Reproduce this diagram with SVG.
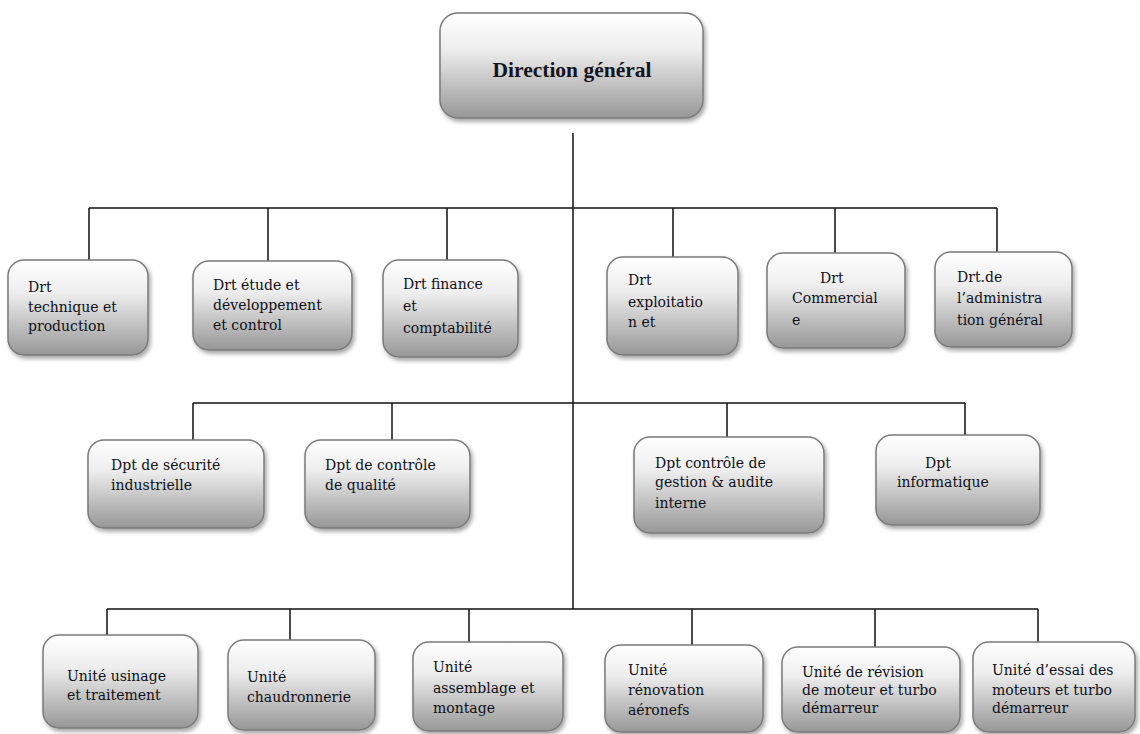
<svg xmlns="http://www.w3.org/2000/svg" width="1140" height="734" viewBox="0 0 1140 734">
<defs>
<linearGradient id="g" x1="0" y1="0" x2="0" y2="1">
<stop offset="0" stop-color="#ffffff"/>
<stop offset="0.35" stop-color="#ededed"/>
<stop offset="1" stop-color="#979797"/>
</linearGradient>
<filter id="sh" x="-10%" y="-10%" width="130%" height="130%">
<feDropShadow dx="2" dy="3" stdDeviation="2" flood-color="#000" flood-opacity="0.35"/>
</filter>
</defs>
<style>
.box{fill:url(#g);stroke:#7a7a7a;stroke-width:1.5;filter:url(#sh)}
.t{font-family:"DejaVu Serif","Liberation Serif",serif;font-size:14px;fill:#101018}
.title{font-family:"Liberation Serif","Times New Roman",serif;font-size:21.5px;font-weight:bold;fill:#151520}
.c{fill:none;stroke:#111;stroke-width:1.5}
</style>
<g id="connectors" class="c">
<path d="M573 133V609"/>
<path d="M89 208H997M89 208V260M268 208V261M447 208V260M673 208V257M835 208V253M997 208V252"/>
<path d="M193 403H965M193 403V440M392 403V440M727 403V437M965 403V435"/>
<path d="M107 609H1038M107 609V635M290 609V640M469 609V642M692 609V645M875 609V647M1038 609V642"/>
</g>
<g id="n0"><rect class="box" x="440" y="13" width="263" height="105" rx="18"/><text class="title" x="572" y="77" text-anchor="middle">Direction général</text></g>
<g id="n1"><rect class="box" x="8" y="260" width="140" height="95" rx="16"/><text class="t" x="28" y="292">Drt</text><text class="t" x="28" y="312">technique et</text><text class="t" x="28" y="331">production</text></g>
<g id="n2"><rect class="box" x="193" y="261" width="159" height="89" rx="16"/><text class="t" x="213" y="290">Drt étude et</text><text class="t" x="213" y="310">développement</text><text class="t" x="213" y="330">et control</text></g>
<g id="n3"><rect class="box" x="383" y="260" width="135" height="97" rx="16"/><text class="t" x="403" y="289">Drt finance</text><text class="t" x="403" y="311">et</text><text class="t" x="403" y="333">comptabilité</text></g>
<g id="n4"><rect class="box" x="607" y="257" width="131" height="98" rx="16"/><text class="t" x="628" y="285">Drt</text><text class="t" x="628" y="307">exploitatio</text><text class="t" x="628" y="327">n et</text></g>
<g id="n5"><rect class="box" x="767" y="253" width="138" height="95" rx="16"/><text class="t" x="820" y="283">Drt</text><text class="t" x="792" y="303">Commercial</text><text class="t" x="792" y="325">e</text></g>
<g id="n6"><rect class="box" x="935" y="252" width="137" height="95" rx="16"/><text class="t" x="957" y="282">Drt.de</text><text class="t" x="957" y="303">l’administra</text><text class="t" x="957" y="325">tion général</text></g>
<g id="n7"><rect class="box" x="88" y="440" width="176" height="88" rx="16"/><text class="t" x="111" y="470">Dpt de sécurité</text><text class="t" x="111" y="490">industrielle</text></g>
<g id="n8"><rect class="box" x="305" y="440" width="165" height="88" rx="16"/><text class="t" x="325" y="470">Dpt de contrôle</text><text class="t" x="325" y="490">de qualité</text></g>
<g id="n9"><rect class="box" x="634" y="437" width="190" height="96" rx="16"/><text class="t" x="655" y="468">Dpt contrôle de</text><text class="t" x="655" y="487">gestion &amp; audite</text><text class="t" x="655" y="508">interne</text></g>
<g id="n10"><rect class="box" x="876" y="435" width="164" height="90" rx="16"/><text class="t" x="925" y="468">Dpt</text><text class="t" x="897" y="487">informatique</text></g>
<g id="n11"><rect class="box" x="43" y="635" width="155" height="93" rx="16"/><text class="t" x="67" y="681">Unité usinage</text><text class="t" x="67" y="700">et traitement</text></g>
<g id="n12"><rect class="box" x="228" y="640" width="147" height="90" rx="16"/><text class="t" x="247" y="682">Unité</text><text class="t" x="247" y="702">chaudronnerie</text></g>
<g id="n13"><rect class="box" x="413" y="642" width="150" height="89" rx="16"/><text class="t" x="433" y="672">Unité</text><text class="t" x="433" y="693">assemblage et</text><text class="t" x="433" y="713">montage</text></g>
<g id="n14"><rect class="box" x="605" y="645" width="158" height="87" rx="16"/><text class="t" x="628" y="675">Unité</text><text class="t" x="628" y="695">rénovation</text><text class="t" x="628" y="715">aéronefs</text></g>
<g id="n15"><rect class="box" x="782" y="647" width="178" height="85" rx="16"/><text class="t" x="802" y="677">Unité de révision</text><text class="t" x="802" y="695">de moteur et turbo</text><text class="t" x="802" y="713">démarreur</text></g>
<g id="n16"><rect class="box" x="973" y="642" width="162" height="90" rx="16"/><text class="t" x="992" y="675">Unité d’essai des</text><text class="t" x="992" y="695">moteurs et turbo</text><text class="t" x="992" y="713">démarreur</text></g>
</svg>
